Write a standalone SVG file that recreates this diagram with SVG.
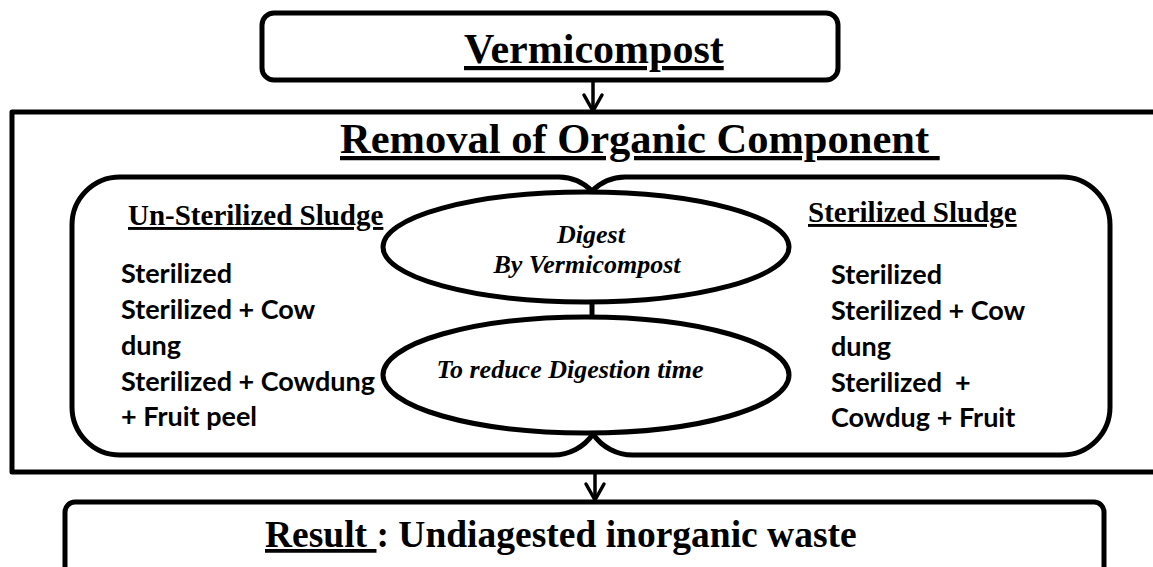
<svg xmlns="http://www.w3.org/2000/svg" width="1153" height="567" viewBox="0 0 1153 567">
<style>
.ln{fill:none;stroke:#000;stroke-width:5;stroke-linejoin:round}
.el{fill:#fff;stroke:#000;stroke-width:5}
.ar{fill:none;stroke:#000;stroke-width:3.5;stroke-linecap:round;stroke-linejoin:round}
.h{font-family:"Liberation Serif","Times New Roman",serif;font-weight:bold;fill:#000;white-space:pre}
.it{font-family:"Liberation Serif","Times New Roman",serif;font-weight:bold;font-style:italic;font-size:26px;fill:#000;text-anchor:middle}
.ls{font-family:Lato,"Liberation Sans",sans-serif;font-weight:bold;font-size:27px;fill:#000;white-space:pre}
</style>
<rect width="1153" height="567" fill="#fff"/>
<g id="vermicompost">
<rect class="ln" x="262" y="13" width="576" height="67" rx="12"/>
<text class="h" x="464" y="63" font-size="42" text-decoration="underline">Vermicompost</text>
</g>
<g id="removal">
<path class="ln" d="M1160 112 H12 V472 H1160"/>
<text class="h" x="340" y="153" font-size="42.5" text-decoration="underline">Removal of Organic Component </text>
</g>
<g id="unsterilized">
<path class="ln" d="M592 191 A48 48 0 0 0 559 177 H120 A48 48 0 0 0 72 225 V407 A48 48 0 0 0 120 455 H553 A48 48 0 0 0 593 434"/>
<text class="h" x="128" y="225" font-size="29" text-decoration="underline">Un-Sterilized Sludge</text>
<text class="ls" x="121" y="283">Sterilized</text>
<text class="ls" x="121" y="319">Sterilized + Cow</text>
<text class="ls" x="121" y="355">dung</text>
<text class="ls" x="121" y="391">Sterilized + Cowdung</text>
<text class="ls" x="121" y="426">+ Fruit peel</text>
</g>
<g id="sterilized">
<path class="ln" d="M592 191 A48 48 0 0 1 625 177 H1062 A48 48 0 0 1 1110 225 V407 A48 48 0 0 1 1062 455 H633 A48 48 0 0 1 593 434"/>
<text class="h" x="808" y="222" font-size="29" text-decoration="underline">Sterilized Sludge</text>
<text class="ls" x="831" y="284">Sterilized</text>
<text class="ls" x="831" y="320">Sterilized + Cow</text>
<text class="ls" x="831" y="356">dung</text>
<text class="ls" x="831" y="392">Sterilized  +</text>
<text class="ls" x="831" y="427">Cowdug + Fruit</text>
</g>
<g id="connectors">
<line x1="592" y1="300" x2="592" y2="320" stroke="#000" stroke-width="5"/>
<line class="ar" x1="593" y1="82" x2="593" y2="111"/>
<polyline class="ar" points="584,95 593,111 602,95"/>
<line class="ar" x1="595" y1="474" x2="595" y2="500"/>
<polyline class="ar" points="586,484 595,500 604,484"/>
</g>
<g id="digest">
<ellipse class="el" cx="586" cy="247" rx="203" ry="55"/>
<text class="it" x="591" y="243">Digest</text>
<text class="it" x="587" y="273">By Vermicompost</text>
</g>
<g id="reduce">
<ellipse class="el" cx="586" cy="375" rx="203" ry="58"/>
<text class="it" x="570" y="378">To reduce Digestion time</text>
</g>
<g id="result">
<rect class="ln" x="65" y="502" width="1039" height="80" rx="10"/>
<text class="h" x="265" y="547" font-size="37.5"><tspan text-decoration="underline">Result </tspan>: Undiagested inorganic waste</text>
</g>
</svg>
